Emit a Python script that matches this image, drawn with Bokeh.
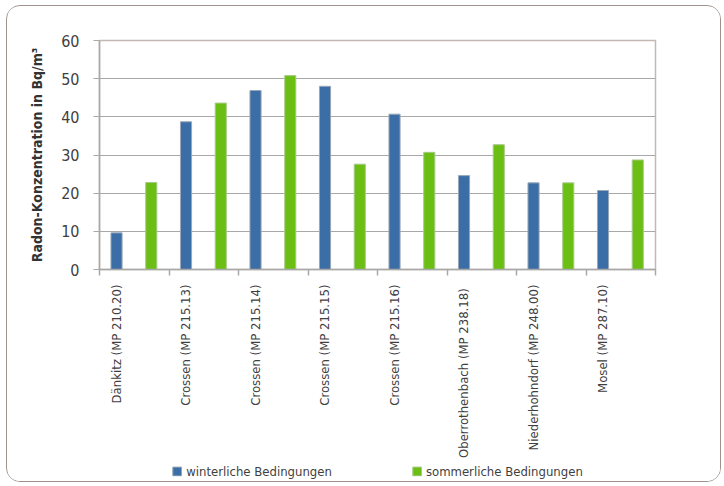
import math
from bokeh.plotting import figure
from bokeh.layouts import column
from bokeh.models import (Range1d, FixedTicker, ColumnDataSource, Legend,
                          LegendItem)
from bokeh.embed import file_html
from bokeh.resources import INLINE

# Measuring points
sites = ["Dänkitz (MP 210.20)", "Crossen (MP 215.13)", "Crossen (MP 215.14)",
         "Crossen (MP 215.15)", "Crossen (MP 215.16)", "Oberrothenbach  (MP 238.18)",
         "Niederhohndorf (MP 248.00)", "Mosel (MP 287.10)"]
# Radon concentration in Bq/m³
winter = [9.6, 38.7, 46.9, 48.0, 40.7, 24.6, 22.7, 20.7]
summer = [22.8, 43.6, 50.8, 27.6, 30.7, 32.7, 22.7, 28.7]
y_ticks = [0, 10, 20, 30, 40, 50, 60]
series_names = ["winterliche Bedingungen", "sommerliche Bedingungen"]

FONT = "'DejaVu Sans Condensed', 'Liberation Sans', sans-serif"
TXT = "#3f3f3f"
BLUE = "#3b6ea6"
GREEN = "#6bbf14"
BLUE_EDGE = "#9aa8b6"
GREEN_EDGE = "#a9c98a"
AXIS = "#a8a8a8"

n = len(sites)
idx = list(range(n))
label_pos = [round(i + 0.24, 2) for i in idx]
src = ColumnDataSource(dict(
    xw=[i + 0.245 for i in idx], xs=[i + 0.745 for i in idx],
    winter=winter, summer=summer,
))

# ---- main bar chart ----
p = figure(width=713, height=454, output_backend="svg", toolbar_location=None,
           x_range=Range1d(0, n), y_range=Range1d(0, 60),
           min_border_left=92, min_border_right=65, min_border_top=34,
           min_border_bottom=191)
p.background_fill_color = "white"
p.border_fill_color = "white"
p.outline_line_color = "#c4b9b2"
p.outline_line_width = 1.5

p.vbar(x="xw", top="winter", width=0.16, source=src, fill_color=BLUE,
       line_color=BLUE_EDGE, line_width=1)
p.vbar(x="xs", top="summer", width=0.16, source=src, fill_color=GREEN,
       line_color=GREEN_EDGE, line_width=1)

p.xgrid.visible = False
p.ygrid.grid_line_color = AXIS
p.ygrid.grid_line_width = 1.2
p.ygrid.ticker = FixedTicker(ticks=y_ticks)

# x axis: site names as major labels, category borders as tick marks
xa = p.xaxis[0]
xa.ticker = FixedTicker(ticks=label_pos, minor_ticks=list(range(n + 1)))
xa.major_label_overrides = {pos: name for pos, name in zip(label_pos, sites)}
xa.major_label_orientation = math.pi / 2
xa.major_label_text_font = FONT
xa.major_label_text_font_size = "13px"
xa.major_label_text_color = TXT
xa.major_label_standoff = 9
xa.axis_line_color = AXIS
xa.axis_line_width = 1.5
xa.major_tick_line_color = None
xa.major_tick_out = 6
xa.major_tick_in = 0
xa.minor_tick_line_color = AXIS
xa.minor_tick_line_width = 1.5
xa.minor_tick_out = 6
xa.minor_tick_in = 0

ya = p.yaxis[0]
ya.ticker = FixedTicker(ticks=y_ticks)
ya.axis_line_color = AXIS
ya.axis_line_width = 1.5
ya.major_tick_line_color = AXIS
ya.major_tick_line_width = 1.2
ya.major_tick_out = 6
ya.major_tick_in = 0
ya.minor_tick_line_color = None
ya.major_label_text_font = FONT
ya.major_label_text_font_size = "16px"
ya.major_label_text_color = TXT
ya.major_label_standoff = 14
ya.axis_label = "Radon-Konzentration in Bq/m³"
ya.axis_label_text_font = FONT
ya.axis_label_text_font_style = "bold"
ya.axis_label_text_font_size = "14px"
ya.axis_label_text_color = "#333333"
ya.axis_label_standoff = 13

# ---- legend strip (same series; its ranges keep the bars out of view) ----
lp = figure(width=713, height=21, output_backend="svg", toolbar_location=None,
            x_axis_type=None, y_axis_type=None, min_border=0,
            x_range=Range1d(100, 101), y_range=Range1d(100, 101))
lp.outline_line_color = None
lp.grid.visible = False
lw = lp.vbar(x="xw", top="winter", width=0.16, source=src, fill_color=BLUE,
             line_color=BLUE_EDGE)
ls = lp.vbar(x="xs", top="summer", width=0.16, source=src, fill_color=GREEN,
             line_color=GREEN_EDGE)
legend = Legend(items=[LegendItem(label=series_names[0], renderers=[lw]),
                       LegendItem(label=series_names[1], renderers=[ls])],
                orientation="horizontal", location="center",
                glyph_width=11, glyph_height=11,
                label_text_font=FONT, label_text_font_size="13px",
                label_text_color=TXT, label_standoff=4, spacing=79,
                padding=0, margin=0, border_line_color=None,
                background_fill_alpha=0)
lp.add_layout(legend, "center")

layout = column(p, lp, spacing=0,
                styles={"border": "1.5px solid #9e948d", "border-radius": "14px",
                        "margin-left": "6px", "margin-top": "5px",
                        "overflow": "hidden"})

open("out.html", "w").write(file_html(layout, INLINE))
